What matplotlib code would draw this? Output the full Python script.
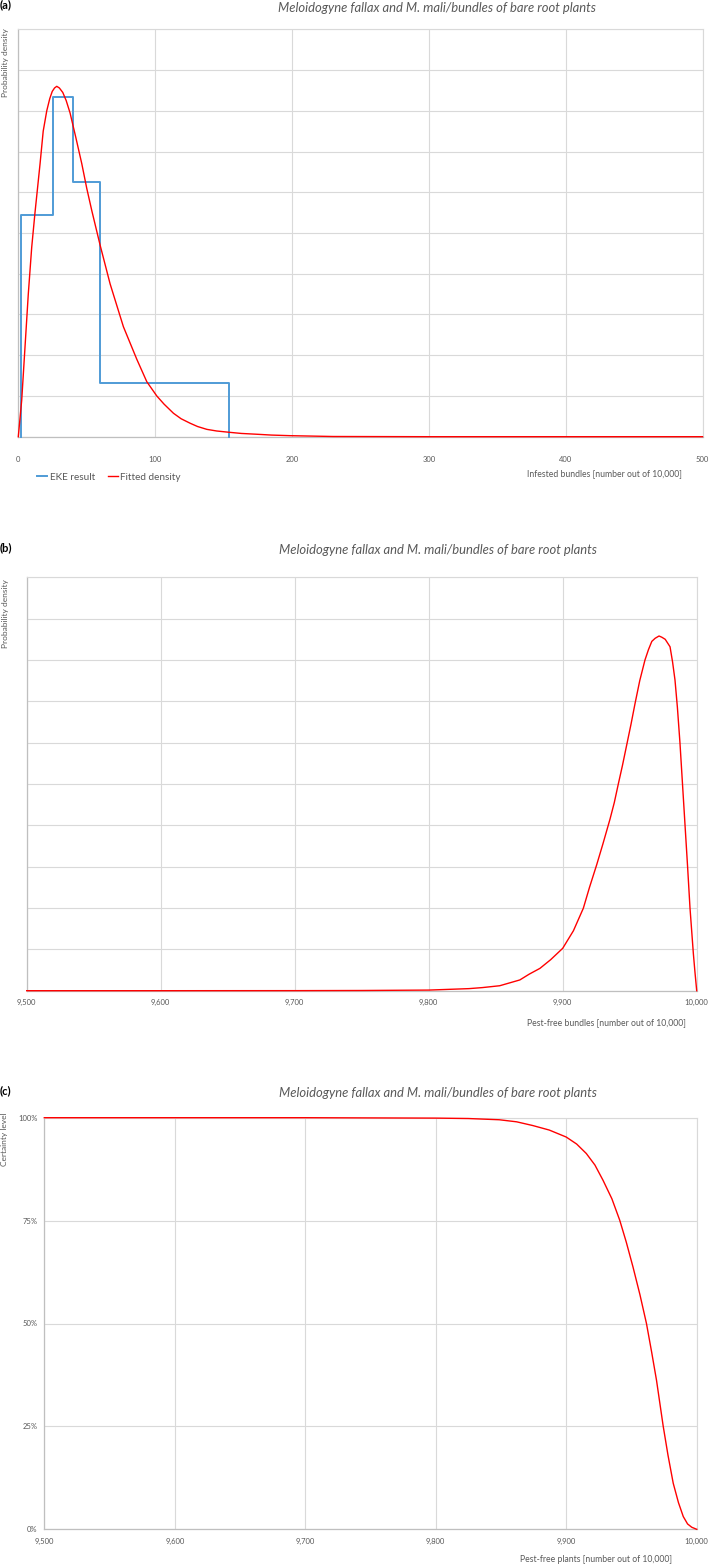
import matplotlib
matplotlib.use("Agg")
import matplotlib.pyplot as plt

plt.rcParams['font.family'] = ['Lato', 'DejaVu Sans']

# ===== data =====
title = "Meloidogyne fallax and M. mali/bundles of bare root plants"

# (a) EKE quantile steps and fitted density, infested bundles
eke_edges = [2, 25, 40, 60, 154]
eke_heights = [0.01087, 0.01667, 0.0125, 0.00266]

a_x = [0, 2.5, 4.9, 7.3, 9.8, 12.2, 15.9, 18.2, 20.8, 23.0, 24.8, 26.5, 28.1, 30.0,
       32.5, 35.0, 37.8, 42.0, 46.4, 50.0, 53.7, 59.8, 67.1, 76.8, 86.6, 93.9,
       101.2, 106.5, 113.4, 119.0, 125.6, 131.0, 137.8, 145.0, 153.6, 163.0,
       174.4, 185.0, 198.8, 230, 300, 500]
a_y = [0, 0.0018, 0.0044, 0.0070, 0.0093, 0.0110, 0.0134, 0.0150, 0.0160, 0.0166,
       0.01695, 0.01712, 0.0172, 0.01712, 0.0169, 0.0165, 0.0159, 0.0147, 0.0134,
       0.0122, 0.0111, 0.0094, 0.0075, 0.0054, 0.0038, 0.0027, 0.0020, 0.0016,
       0.00115, 0.00088, 0.00066, 0.00050, 0.00036, 0.00028, 0.00022, 0.00016,
       0.00012, 0.00008, 0.00005, 0.00001, 0, 0]

# (b) fitted density, pest-free bundles
b_x = [9500, 9600, 9700, 9750, 9800, 9830, 9840, 9853, 9868, 9875, 9883, 9891, 9900,
       9908, 9915.4, 9920, 9925.4, 9930, 9935.3, 9938.5, 9941.5, 9944.6, 9947.8,
       9951, 9954, 9957.5, 9961.4, 9964, 9966.5, 9969, 9971.9, 9974, 9976.5, 9978.5,
       9980.1, 9982, 9983.8, 9985.6, 9987.5, 9989.4, 9991.3, 9993.2, 9995, 9997.5,
       9998.7, 10000]
b_y = [0, 0, 0.000003, 0.00001, 0.00003, 0.0001, 0.00015, 0.00024, 0.00052, 0.0008,
       0.00108, 0.0015, 0.00205, 0.0029, 0.00399, 0.0050, 0.0061, 0.0071, 0.0083,
       0.0091, 0.0100, 0.0109, 0.0119, 0.0129, 0.0139, 0.0150, 0.0160, 0.0165, 0.0169,
       0.01705, 0.01716, 0.0171, 0.0170, 0.0168, 0.01664, 0.0159, 0.01503, 0.0137,
       0.012, 0.0100, 0.008, 0.0060, 0.004, 0.0018, 0.0009, 0]

# (c) certainty level, pest-free plants
c_x = [9500, 9700, 9800, 9825, 9848.7, 9862, 9874.3, 9887, 9900, 9908, 9915.4, 9922,
       9928.2, 9935, 9941, 9946, 9951.2, 9956.5, 9961.5, 9965.5, 9969.2, 9974.3,
       9978, 9982, 9986, 9989.7, 9993, 9996.2, 10000]
c_y = [100, 100, 99.9, 99.8, 99.5, 99.0, 98.1, 97.0, 95.3, 93.6, 91.3, 88.5, 84.8,
       80.3, 75.1, 69.8, 63.7, 57.0, 50, 43.0, 36.2, 25.1, 18.0, 11.2, 6.5, 3.1,
       1.3, 0.5, 0]

pf_ticks = [9500, 9600, 9700, 9800, 9900, 10000]
pct_ticks = [0, 25, 50, 75, 100]

# ===== layout helpers (pixel -> figure fraction) =====
W, H = 709, 1565
def fx(px):
    return px / W
def fy(py):
    return 1 - py / H

TXT = '#595959'
GRID = '#d9d9d9'
AXL = '#bfbfbf'
BLUE = '#4f9bd6'
RED = '#ff0000'

fig = plt.figure(figsize=(7.09, 15.65), dpi=100)

def make_axes(x0, x1, y0, y1):
    ax = fig.add_axes([fx(x0), fy(y1), fx(x1) - fx(x0), fy(y0) - fy(y1)])
    ax.grid(True, color=GRID, lw=0.8)
    ax.set_axisbelow(True)
    for s in ['top', 'right']:
        ax.spines[s].set_color(GRID)
        ax.spines[s].set_linewidth(0.8)
    for s in ['left', 'bottom']:
        ax.spines[s].set_color(AXL)
        ax.spines[s].set_linewidth(0.9)
    ax.tick_params(length=0, labelsize=5.5, labelcolor=TXT)
    return ax

# ===== (a) =====
ax1 = make_axes(18.3, 702.5, 29.3, 436.7)
# step outline: up from 0 at first edge, across each bin, back down at last edge
step_x = [eke_edges[0]]
step_y = [0]
for i, h in enumerate(eke_heights):
    step_x += [eke_edges[i], eke_edges[i + 1]]
    step_y += [h, h]
step_x.append(eke_edges[-1])
step_y.append(0)
ax1.plot(step_x, step_y, color=BLUE, lw=1.4, label='EKE result', clip_on=False, zorder=3)
ax1.plot(a_x, a_y, color=RED, lw=1.0, label='Fitted density', clip_on=False, zorder=4)
ax1.set_xlim(0, 500)
ax1.set_ylim(0, 0.02)
ax1.set_xticks([0, 100, 200, 300, 400, 500])
ax1.set_yticks([i * 0.002 for i in range(11)])
ax1.set_yticklabels([])
ax1.tick_params(axis='x', pad=14)
ax1.legend(loc='center left', bbox_to_anchor=(fx(37), fy(477)),
           bbox_transform=fig.transFigure, ncol=2, frameon=False, fontsize=7.2,
           handlelength=1.0, handletextpad=0.25, columnspacing=1.3,
           labelcolor=TXT, borderaxespad=0, borderpad=0)

fig.text(fx(0), fy(5), '(a)', fontsize=8, fontweight='bold', va='center', ha='left')
fig.text(fx(437), fy(8), title, fontsize=9.4, style='italic', color=TXT,
         ha='center', va='center')
fig.text(fx(6), fy(63), 'Probability density', rotation=90, fontsize=6, color=TXT,
         ha='center', va='center')
fig.text(fx(604), fy(474), 'Infested bundles [number out of 10,000]', fontsize=6.2,
         color=TXT, ha='center', va='center')

# ===== (b) =====
ax2 = make_axes(26.7, 696.7, 577.3, 990.7)
ax2.plot(b_x, b_y, color=RED, lw=1.0, clip_on=False, zorder=4)
ax2.set_xlim(9500, 10000)
ax2.set_ylim(0, 0.02)
ax2.set_xticks(pf_ticks)
ax2.set_xticklabels([f"{t:,}" for t in pf_ticks])
ax2.set_yticks([i * 0.002 for i in range(11)])
ax2.set_yticklabels([])
ax2.tick_params(axis='x', pad=6)

fig.text(fx(0), fy(548), '(b)', fontsize=8, fontweight='bold', va='center', ha='left')
fig.text(fx(438), fy(550), title, fontsize=9.4, style='italic', color=TXT,
         ha='center', va='center')
fig.text(fx(6), fy(614), 'Probability density', rotation=90, fontsize=6, color=TXT,
         ha='center', va='center')
fig.text(fx(606), fy(1023), 'Pest-free bundles [number out of 10,000]', fontsize=6.2,
         color=TXT, ha='center', va='center')

# ===== (c) =====
ax3 = make_axes(44.3, 696.7, 1117.7, 1529.3)
ax3.plot(c_x, c_y, color=RED, lw=1.0, clip_on=False, zorder=4)
ax3.set_xlim(9500, 10000)
ax3.set_ylim(0, 100)
ax3.set_xticks(pf_ticks)
ax3.set_xticklabels([f"{t:,}" for t in pf_ticks])
ax3.set_yticks(pct_ticks)
ax3.set_yticklabels([f"{t}%" for t in pct_ticks])
ax3.tick_params(axis='x', pad=6)
ax3.tick_params(axis='y', pad=5)

fig.text(fx(0), fy(1091), '(c)', fontsize=8, fontweight='bold', va='center', ha='left')
fig.text(fx(438), fy(1093), title, fontsize=9.4, style='italic', color=TXT,
         ha='center', va='center')
fig.text(fx(5), fy(1139), 'Certainty level', rotation=90, fontsize=6, color=TXT,
         ha='center', va='center')
fig.text(fx(596), fy(1559), 'Pest-free plants [number out of 10,000]', fontsize=6.2,
         color=TXT, ha='center', va='center')

fig.savefig('out.png', dpi=100)
